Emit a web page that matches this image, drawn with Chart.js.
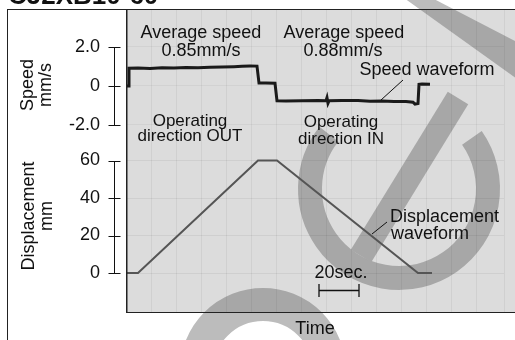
<!DOCTYPE html>
<html><head><meta charset="utf-8">
<script src="https://cdn.jsdelivr.net/npm/chart.js@4.4.1/dist/chart.umd.min.js"></script>
<style>html,body{margin:0;padding:0;background:#fff;}canvas{display:block;}</style>
</head><body>
<canvas id="c" width="515" height="340"></canvas>
<script>
// ---- data (time in seconds) ----
const speedTime  = [0, 1.5, 1.5, 6, 12, 18, 24, 30, 36, 42, 48, 54, 58, 62, 65.5, 66.5, 70, 74.5, 75.5, 80, 88, 96, 100, 100.5, 101, 101.5, 108, 116, 122, 128, 134, 140, 143.5, 144.5, 146, 146.5, 148, 152];
const speedValue = [0, 0, 0.91, 0.92, 0.90, 0.93, 0.92, 0.95, 0.94, 0.96, 0.97, 0.99, 1.01, 1.03, 1.02, 0.15, 0.16, 0.14, -0.76, -0.77, -0.76, -0.75, -0.76, -0.6, -0.88, -0.76, -0.75, -0.74, -0.78, -0.77, -0.8, -0.79, -0.83, -0.93, -0.9, 0.08, 0.1, 0.09];
const dispTime  = [0, 6, 66, 75.5, 146, 153];
const dispValue = [0, 0, 60, 60, 0, 0];
const speedTicks = [-2, 0, 2];
const speedTickLabels = ['-2.0', '0', '2.0'];
const dispTicks = [0, 20, 40, 60];
const dispTickLabels = ['0', '20', '40', '60'];
const scaleBarStart = 96.5;
const scaleBarLength = 20;

const FONT = '"Liberation Sans", Arial, Helvetica, sans-serif';
const INK = '#111';

function fixScale(w, h) {
  return function (s) {
    if (w !== null) s.width = w;
    if (h !== null) s.height = h;
    s.paddingTop = 0; s.paddingBottom = 0; s.paddingLeft = 0; s.paddingRight = 0;
  };
}

const decor = {
  id: 'decor',
  beforeDraw(chart) {
    const {ctx, chartArea: a, width, height} = chart;
    ctx.save();
    ctx.fillStyle = '#dcdcdc';
    ctx.fillRect(a.left, a.top, width - a.left, a.bottom - a.top);
    // watermark on an offscreen layer, composited semi-transparently
    const off = document.createElement('canvas');
    off.width = width; off.height = height;
    const o = off.getContext('2d');
    o.fillStyle = o.strokeStyle = 'rgb(95,95,95)';
    o.beginPath();
    o.moveTo(404, -2); o.lineTo(432, -2); o.lineTo(517, 42); o.lineTo(517, 79); o.closePath();
    o.fill();
    o.lineCap = 'butt';
    o.lineWidth = 24;
    o.beginPath();
    o.arc(399, 189, 89, -35 * Math.PI / 180, 218 * Math.PI / 180);
    o.stroke();
    o.beginPath();
    o.moveTo(458, 98); o.lineTo(361, 256);
    o.stroke();
    o.lineWidth = 33;
    o.beginPath();
    o.arc(263, 371, 66.5, 0, Math.PI * 2);
    o.stroke();
    ctx.globalAlpha = 0.42;
    ctx.drawImage(off, 0, 0);
    ctx.restore();
  },
  afterDraw(chart) {
    const {ctx, chartArea: a, width, height, scales} = chart;
    const ys = scales.ySpeed, yd = scales.yDisp, x = scales.x;
    ctx.save();
    ctx.strokeStyle = '#222';
    ctx.lineWidth = 1;
    ctx.beginPath();
    ctx.moveTo(7, 9.5); ctx.lineTo(width, 9.5);
    ctx.moveTo(7.5, 9); ctx.lineTo(7.5, height);
    ctx.moveTo(a.left, a.bottom + 0.5); ctx.lineTo(width, a.bottom + 0.5);
    ctx.stroke();
    ctx.lineWidth = 1.5;
    ctx.beginPath();
    ctx.moveTo(a.left + 0.75, a.top); ctx.lineTo(a.left + 0.75, a.bottom);
    ctx.stroke();

    // axis lines with crossing tick marks
    const ax = a.left - 11.5;
    ctx.lineWidth = 1;
    ctx.strokeStyle = '#111';
    function axis(scale, ticks) {
      const p = ticks.map(v => Math.round(scale.getPixelForValue(v)) + 0.5);
      ctx.beginPath();
      ctx.moveTo(ax, Math.min(...p)); ctx.lineTo(ax, Math.max(...p));
      p.forEach(py => { ctx.moveTo(ax - 6, py); ctx.lineTo(ax + 6, py); });
      ctx.stroke();
    }
    axis(ys, speedTicks);
    axis(yd, dispTicks);

    ctx.fillStyle = INK;
    ctx.textBaseline = 'middle';
    ctx.textAlign = 'center';
    ctx.font = '18px ' + FONT;
    function vtext(t, cx, cy) {
      ctx.save(); ctx.translate(cx, cy); ctx.rotate(-Math.PI / 2); ctx.fillText(t, 0, 0); ctx.restore();
    }
    vtext('Speed', 28.5, 85);
    vtext('mm/s', 46, 85);
    vtext('Displacement', 29, 216);
    vtext('mm', 47, 216);

    ctx.textBaseline = 'alphabetic';
    ctx.fillText('Average speed', 201, 38);
    ctx.fillText('0.85mm/s', 201, 55.5);
    ctx.fillText('Average speed', 344, 38);
    ctx.fillText('0.88mm/s', 343, 55.5);
    ctx.fillText('Speed waveform', 427, 75);
    ctx.fillText('20sec.', 341, 278);
    ctx.font = '17px ' + FONT;
    ctx.fillText('Operating', 190, 125.5);
    ctx.fillText('direction OUT', 190, 140.5);
    ctx.fillText('Operating', 341, 127);
    ctx.fillText('direction IN', 341, 144);
    ctx.font = '18px ' + FONT;
    ctx.textAlign = 'left';
    ctx.fillText('Displacement', 390, 222);
    ctx.fillText('waveform', 391, 239);

    // leader lines
    ctx.beginPath();
    ctx.moveTo(403, 80); ctx.lineTo(381, 100);
    ctx.moveTo(387, 222); ctx.lineTo(372, 234);
    ctx.stroke();

    // 20 sec scale bar
    const bx0 = x.getPixelForValue(scaleBarStart), bx1 = x.getPixelForValue(scaleBarStart + scaleBarLength);
    ctx.lineWidth = 1.3;
    ctx.beginPath();
    ctx.moveTo(bx0, 290.5); ctx.lineTo(bx1, 290.5);
    ctx.moveTo(bx0, 284); ctx.lineTo(bx0, 297);
    ctx.moveTo(bx1, 284); ctx.lineTo(bx1, 297);
    ctx.stroke();

    // cut-off heading at the very top
    ctx.font = 'bold 26px ' + FONT;
    ctx.textAlign = 'left';
    ctx.fillText('CJ2XB10-60', 8, 4);
    ctx.restore();
  }
};

new Chart(document.getElementById('c'), {
  type: 'line',
  data: {
    datasets: [
      {
        label: 'Speed waveform',
        data: speedTime.map((t, i) => ({x: t, y: speedValue[i]})),
        yAxisID: 'ySpeed',
        borderColor: '#1a1a1a',
        borderWidth: 3,
        pointRadius: 0,
        tension: 0
      },
      {
        label: 'Displacement waveform',
        data: dispTime.map((t, i) => ({x: t, y: dispValue[i]})),
        yAxisID: 'yDisp',
        borderColor: '#555',
        borderWidth: 2,
        pointRadius: 0,
        tension: 0
      }
    ]
  },
  options: {
    responsive: false,
    animation: false,
    devicePixelRatio: 1,
    layout: {padding: {top: 9, right: 11, left: 0, bottom: 0}},
    plugins: {legend: {display: false}, tooltip: {enabled: false}, title: {display: false}},
    scales: {
      x: {
        type: 'linear', min: 0, max: 189,
        border: {display: false},
        grid: {display: true, drawTicks: false, color: 'rgba(0,0,0,0.05)'},
        ticks: {display: false, stepSize: 12.5},
        title: {display: true, text: 'Time', color: INK, font: {family: FONT, size: 18}, padding: {top: 0, bottom: 0}},
        afterFit: fixScale(null, 28)
      },
      ySpeed: {
        type: 'linear', position: 'left', stack: 'left', stackWeight: 133, weight: 2,
        min: -2.8718, max: 3.9487,
        border: {display: false},
        grid: {display: true, drawTicks: false, color: 'rgba(0,0,0,0.045)'},
        ticks: {padding: 26, color: INK, font: {family: FONT, size: 18}, autoSkip: false,
          callback: v => speedTickLabels[speedTicks.indexOf(v)]},
        afterBuildTicks: s => { s.ticks = speedTicks.map(v => ({value: v})); },
        afterFit: fixScale(126, null)
      },
      yDisp: {
        type: 'linear', position: 'left', stack: 'left', stackWeight: 170, weight: 1,
        min: -20.8, max: 69.867,
        border: {display: false},
        grid: {display: true, drawTicks: false, color: 'rgba(0,0,0,0.06)'},
        ticks: {padding: 26, color: INK, font: {family: FONT, size: 18}, autoSkip: false,
          callback: v => dispTickLabels[dispTicks.indexOf(v)]},
        afterBuildTicks: s => { s.ticks = dispTicks.map(v => ({value: v})); },
        afterFit: fixScale(126, null)
      }
    }
  },
  plugins: [decor]
});
</script>
</body></html>
